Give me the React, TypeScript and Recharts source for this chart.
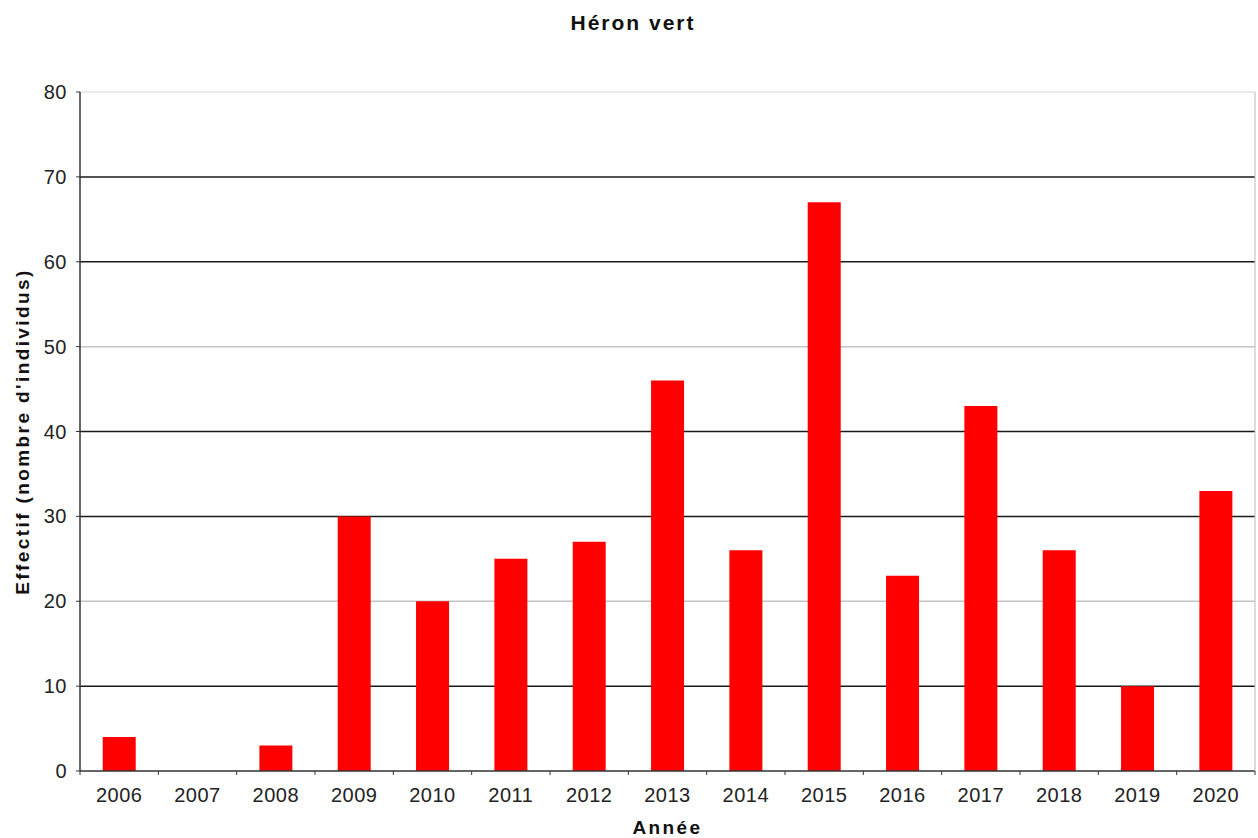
import React from 'react';
import { BarChart, Bar, XAxis, YAxis, CartesianGrid } from 'recharts';

const years = ['2006', '2007', '2008', '2009', '2010', '2011', '2012', '2013', '2014', '2015', '2016', '2017', '2018', '2019', '2020'];
const effectif = [4, 0, 3, 30, 20, 25, 27, 46, 26, 67, 23, 43, 26, 10, 33];
const yTicks = [0, 10, 20, 30, 40, 50, 60, 70, 80];
const darkGrid = [10, 30, 40, 60, 70];
const lightGrid = [20, 50];
const topGrid = [80];

const W = 1258;
const H = 838;
const M = { top: 92, right: 0, bottom: 0, left: 0 };
const Y_W = 80;
const R_W = 3;
const STEP = (W - Y_W - R_W) / years.length;
const FONT = '"Liberation Sans", Arial, sans-serif';

const data = years.map((y, i) => ({ year: y, value: effectif[i] }));

// libellé + petite graduation entre les catégories
const XTick = (props: any) => {
  const { x, y, payload, index } = props;
  const last = index === years.length - 1;
  return (
    <g>
      <line x1={x - STEP / 2} y1={y} x2={x - STEP / 2} y2={y + 4} stroke="#333" />
      {last && <line x1={x + STEP / 2} y1={y} x2={x + STEP / 2} y2={y + 4} stroke="#333" />}
      <text x={x} y={y + 31} textAnchor="middle" fontSize={20} letterSpacing={0.5} fontFamily={FONT} fill="#222">
        {payload.value}
      </text>
    </g>
  );
};

export default function App() {
  return (
    <div style={{ position: 'absolute', left: 0, top: 0, width: W, height: H, background: '#fff' }}>
      <div
        style={{
          position: 'absolute', left: 0, top: 11, width: 1266, textAlign: 'center',
          fontFamily: FONT, fontWeight: 'bold', fontSize: 21, letterSpacing: 2, lineHeight: '24px', color: '#111'
        }}
      >
        Héron vert
      </div>
      <BarChart width={W} height={H} data={data} margin={M} barCategoryGap="29%">
        <CartesianGrid yAxisId="left" horizontalValues={topGrid} vertical={false} stroke="#e2e2e2" strokeWidth={1.5} />
        <CartesianGrid yAxisId="left" horizontalValues={lightGrid} vertical={false} stroke="#c4c4c4" strokeWidth={1.5} />
        <CartesianGrid yAxisId="left" horizontalValues={darkGrid} vertical={false} stroke="#1a1a1a" strokeWidth={1.5} />
        <XAxis
          dataKey="year"
          height={67}
          tickSize={0}
          tickMargin={0}
          interval={0}
          tick={<XTick />}
          axisLine={{ stroke: '#333', strokeWidth: 1.5 }}
          label={{ value: 'Année', position: 'insideBottom', offset: 4, fontSize: 19, fontWeight: 'bold', fontFamily: FONT, fill: '#111', letterSpacing: 2.4 }}
        />
        <YAxis
          yAxisId="left"
          width={Y_W}
          domain={[0, 80]}
          ticks={yTicks}
          interval={0}
          tickSize={4}
          tickMargin={9}
          tick={{ fontSize: 20, letterSpacing: 0.5, fontFamily: FONT, fill: '#222' }}
          tickLine={{ stroke: '#333' }}
          axisLine={{ stroke: '#333', strokeWidth: 1.5 }}
          label={{ value: "Effectif (nombre d'individus)", angle: -90, position: 'center', dx: -18, fontSize: 19, letterSpacing: 2.4, fontWeight: 'bold', fontFamily: FONT, fill: '#111' }}
        />
        <YAxis
          yAxisId="right"
          orientation="right"
          width={R_W}
          domain={[0, 80]}
          tick={false}
          tickLine={false}
          axisLine={{ stroke: '#bbb' }}
        />
        <Bar yAxisId="left" dataKey="value" fill="#ff0000" isAnimationActive={false} />
      </BarChart>
    </div>
  );
}
